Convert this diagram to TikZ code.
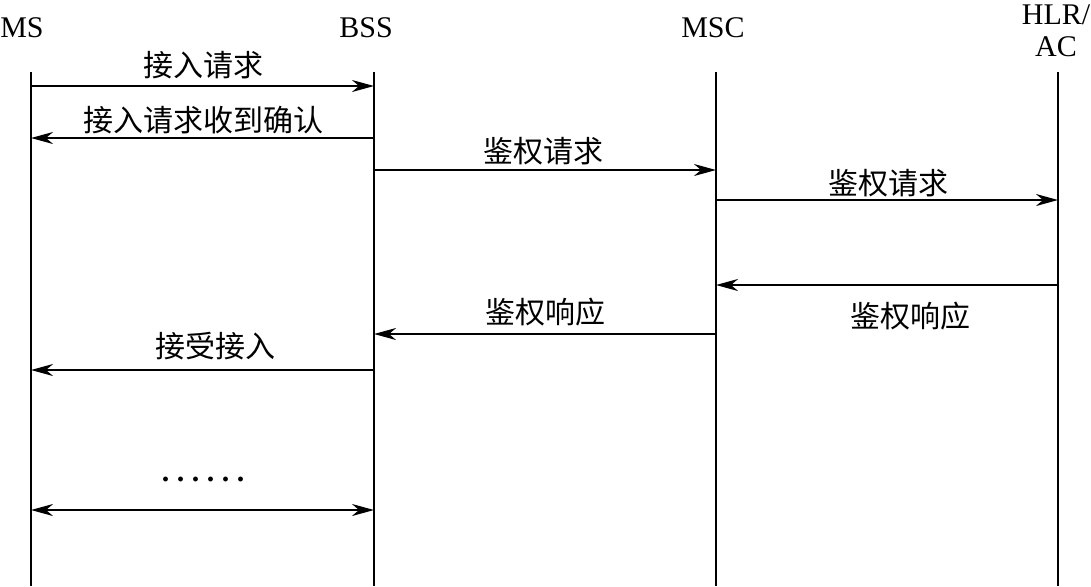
\documentclass[tikz,border=0pt]{standalone}
\usepackage{fontspec}
\setmainfont{Liberation Serif}
\newfontfamily\cjk{Noto Sans CJK SC}
\usetikzlibrary{arrows.meta}

\begin{document}
\begin{tikzpicture}[x=0.5pt,y=-0.5pt,
            lifeline/.style={line width=1.3pt},
            msg/.style={line width=1pt, -{Stealth[length=11pt,width=6pt,inset=3.5pt]}},
            both/.style={line width=1pt, {Stealth[length=11pt,width=6pt,inset=3.5pt]}-{Stealth[length=11pt,width=6pt,inset=3.5pt]}},
            entity/.style={font=\fontsize{15pt}{16pt}\selectfont, inner sep=0pt, align=center},
            msgtext/.style={font=\fontsize{15pt}{16pt}\selectfont\cjk, inner sep=0pt}
            ]
            \useasboundingbox (0,0) rectangle (1091,586);

            \node[entity] (msname) at (22,28) {MS};
            \node[entity] (bssname) at (366,28) {BSS};
            \node[entity] (mscname) at (713,28) {MSC};
            \node[entity] (hlrname) at (1056,31) {HLR/\\AC};

            \coordinate (ms) at (31,72);
            \coordinate (bss) at (374,72);
            \coordinate (msc) at (716,72);
            \coordinate (hlr) at (1058,72);
            \coordinate (ms end) at (31,586);
            \coordinate (bss end) at (374,586);
            \coordinate (msc end) at (716,586);
            \coordinate (hlr end) at (1058,586);

            \draw[lifeline] (ms) -- (ms end);
            \draw[lifeline] (bss) -- (bss end);
            \draw[lifeline] (msc) -- (msc end);
            \draw[lifeline] (hlr) -- (hlr end);

            \node[msgtext] (t1) at (203,65) {接入请求};
            \node[msgtext] (t2) at (203,120) {接入请求收到确认};
            \node[msgtext] (t3) at (543,151) {鉴权请求};
            \node[msgtext] (t4) at (888,183) {鉴权请求};
            \node[msgtext] (t5) at (910,316) {鉴权响应};
            \node[msgtext] (t6) at (545,312) {鉴权响应};
            \node[msgtext] (t7) at (215,346) {接受接入};
            \node[entity, anchor=base] (dots) at (203,481) {\textbf{.\ .\ .\ .\ .\ .}};

            \draw[msg] (ms |- 0,86) -- (bss |- 0,86);
            \draw[msg] (bss |- 0,138) -- (ms |- 0,138);
            \draw[msg] (bss |- 0,170) -- (msc |- 0,170);
            \draw[msg] (msc |- 0,200) -- (hlr |- 0,200);
            \draw[msg] (hlr |- 0,285) -- (msc |- 0,285);
            \draw[msg] (msc |- 0,334) -- (bss |- 0,334);
            \draw[msg] (bss |- 0,370) -- (ms |- 0,370);
            \draw[both] (ms |- 0,510) -- (bss |- 0,510);

            \end{tikzpicture}
\end{document}
